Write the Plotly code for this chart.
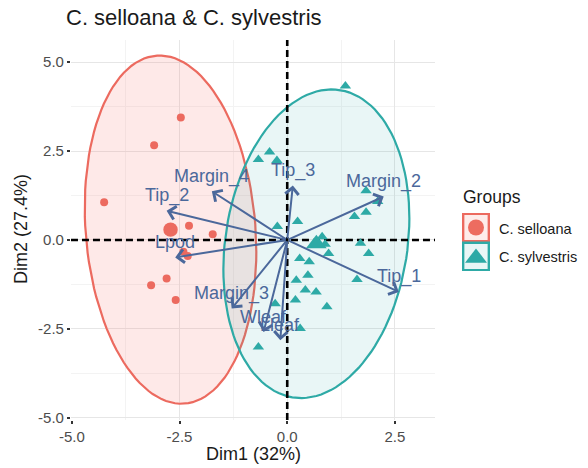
import numpy as np
import plotly.graph_objects as go

# ---------------- data ----------------
title_text = "C. selloana & C. sylvestris"
x_title = "Dim1 (32%)"
y_title = "Dim2 (27.4%)"
group_names = ["C. selloana", "C. sylvestris"]

sel_x = [-2.47, -3.09, -4.25, -2.28, -1.73, -2.41, -2.31, -2.80, -3.16, -2.59]
sel_y = [3.44, 2.66, 1.06, 0.40, 0.16, -0.33, -0.45, -1.08, -1.27, -1.69]

syl_x = [1.35, -0.67, -0.41, -0.24, 0.24, -0.23, 1.83, 2.10, 1.56, 1.83, 0.81, 0.88,
         0.96, 1.70, 1.89, 0.29, 0.51, 0.48, 0.21, 0.42, 0.67, 1.62, 0.19, 0.92,
         -0.28, 0.30, -0.67]
syl_y = [4.33, 2.26, 2.47, 2.23, 0.52, 0.38, 1.38, 1.08, 0.66, 0.78, 0.09, -0.12,
         -0.38, -0.09, -0.38, -0.52, -0.61, -0.99, -1.13, -1.41, -1.46, -1.11, -1.69,
         -1.88, -1.79, -2.49, -3.01]

var_names = ["Margin_2", "Tip_3", "Margin_4", "Tip_2", "Lpod", "Margin_3", "Wleaf", "Lleaf", "Tip_1"]
var_x = [2.24, 0.13, -1.75, -2.80, -2.60, -1.29, -0.55, -0.16, 2.59]
var_y = [1.22, 1.53, 1.37, 0.82, -0.49, -1.93, -2.59, -2.82, -1.46]

x_ticks = [-5.0, -2.5, 0.0, 2.5]
y_ticks = [-5.0, -2.5, 0.0, 2.5, 5.0]
x_lim = [-5.02, 3.43]
y_lim = [-5.06, 5.62]

# ---------------- styles ----------------
RED = "#EC6A5F"
TEAL = "#2EAAA6"
RED_FILL = "rgba(248,118,109,0.16)"
TEAL_FILL = "rgba(40,165,170,0.10)"
VAR_COL = "#4B689B"
FONT = "Liberation Sans, Arial, sans-serif"


def norm_ellipse(xs, ys, level=0.95, segments=121):
    pts = np.column_stack([xs, ys])
    n = len(xs)
    center = pts.mean(axis=0)
    cov = np.cov(pts.T)
    dfd = n - 1
    qf = (dfd / 2.0) * ((1 - level) ** (-2.0 / dfd) - 1)
    radius = np.sqrt(2 * qf)
    t = np.linspace(0, 2 * np.pi, segments)
    circ = np.column_stack([np.cos(t), np.sin(t)])
    chol = np.linalg.cholesky(cov).T
    e = center + radius * circ @ chol
    return e[:, 0], e[:, 1], center


fig = go.Figure()

groups = [
    (sel_x, sel_y, RED, RED_FILL, "circle"),
    (syl_x, syl_y, TEAL, TEAL_FILL, "triangle-up"),
]
centers = []
for gx, gy, col, fill, sym in groups:
    ex, ey, c = norm_ellipse(gx, gy)
    centers.append(c)
    fig.add_trace(go.Scatter(x=ex, y=ey, mode="lines", fill="toself", fillcolor=fill,
                             line=dict(color=col, width=2.2), hoverinfo="skip",
                             showlegend=False))

# zero reference lines (dashed)
fig.add_trace(go.Scatter(x=[0, 0], y=y_lim, mode="lines", hoverinfo="skip", showlegend=False,
                         line=dict(color="black", width=2.6, dash="7px,4px")))
fig.add_trace(go.Scatter(x=x_lim, y=[0, 0], mode="lines", hoverinfo="skip", showlegend=False,
                         line=dict(color="black", width=2.6, dash="7px,4px")))

for (gx, gy, col, fill, sym), c in zip(groups, centers):
    size = 8 if sym == "circle" else 10
    fig.add_trace(go.Scatter(x=gx, y=gy, mode="markers",
                             marker=dict(color=col, size=size, symbol=sym, line=dict(width=0)),
                             showlegend=False))
    fig.add_trace(go.Scatter(x=[c[0]], y=[c[1]], mode="markers",
                             marker=dict(color=col, size=size * 1.8, symbol=sym, line=dict(width=0)),
                             showlegend=False))

# variable arrows and labels
for name, vx, vy in zip(var_names, var_x, var_y):
    fig.add_annotation(x=vx, y=vy, ax=0, ay=0, xref="x", yref="y", axref="x", ayref="y",
                       text="", showarrow=True, arrowhead=4, arrowsize=1.3, arrowwidth=2,
                       arrowcolor=VAR_COL)
    fig.add_annotation(x=vx, y=vy, xref="x", yref="y", text=name, showarrow=False,
                       yshift=15, font=dict(family=FONT, size=18, color=VAR_COL))

# ---------------- legend (drawn manually) ----------------
fig.add_trace(go.Scatter(x=[0.5], y=[1.5], xaxis="x2", yaxis="y2", mode="markers",
                         marker=dict(color=RED, size=16, symbol="circle"), showlegend=False))
fig.add_trace(go.Scatter(x=[0.5], y=[0.45], xaxis="x2", yaxis="y2", mode="markers",
                         marker=dict(color=TEAL, size=19, symbol="triangle-up"), showlegend=False))
fig.add_shape(type="rect", xref="x2", yref="y2", x0=0.04, x1=0.96, y0=1.03, y1=1.97,
              line=dict(color=RED, width=2.5), fillcolor="rgba(248,118,109,0.14)")
fig.add_shape(type="rect", xref="x2", yref="y2", x0=0.04, x1=0.96, y0=0.03, y1=0.97,
              line=dict(color=TEAL, width=2.5), fillcolor="rgba(40,165,170,0.10)")
fig.add_annotation(x=461 / 588, y=1 - 197 / 468, xref="paper", yref="paper", text="Groups",
                   showarrow=False, xanchor="left", yanchor="middle",
                   font=dict(family=FONT, size=17.5, color="#1a1a1a"))
for i, gname in enumerate(group_names):
    fig.add_annotation(x=497 / 588, y=1 - (229 + 28 * i) / 468, xref="paper", yref="paper",
                       text=gname, showarrow=False, xanchor="left", yanchor="middle",
                       font=dict(family=FONT, size=14.5, color="#1a1a1a"))

# titles
fig.add_annotation(x=64 / 588, y=1 - 18 / 468, xref="paper", yref="paper", text=title_text,
                   showarrow=False, xanchor="left", yanchor="middle",
                   font=dict(family=FONT, size=22, color="#1a1a1a"))
fig.add_annotation(x=253 / 588, y=1 - 454 / 468, xref="paper", yref="paper", text=x_title,
                   showarrow=False, xanchor="center", yanchor="middle",
                   font=dict(family=FONT, size=18, color="#1a1a1a"))
fig.add_annotation(x=21 / 588, y=1 - 229 / 468, xref="paper", yref="paper", text=y_title,
                   showarrow=False, xanchor="center", yanchor="middle", textangle=-90,
                   font=dict(family=FONT, size=18, color="#1a1a1a"))

grid_major = "#E6E6E6"
grid_minor = "#F3F3F3"
fig.update_layout(
    template="none",
    width=588, height=468, margin=dict(l=0, r=0, t=0, b=0, autoexpand=False),
    paper_bgcolor="white", plot_bgcolor="white", showlegend=False,
    font=dict(family=FONT),
    xaxis=dict(domain=[0.1207, 0.7398], range=x_lim, tickvals=x_ticks, automargin=False,
               ticktext=[f"{v:.1f}" for v in x_ticks], showgrid=True, gridcolor=grid_major,
               gridwidth=1, zeroline=False, showline=False, ticks="outside", ticklen=3,
               tickwidth=2, tickcolor="#333333",
               tickfont=dict(family=FONT, size=15, color="#4D4D4D"),
               minor=dict(dtick=1.25, tick0=0, showgrid=True, gridcolor=grid_minor, gridwidth=1),
               anchor="y", fixedrange=True),
    yaxis=dict(domain=[0.1026, 0.9145], range=y_lim, tickvals=y_ticks, automargin=False,
               ticktext=[f"{v:.1f}" for v in y_ticks], showgrid=True, gridcolor=grid_major,
               gridwidth=1, zeroline=False, showline=False, ticks="outside", ticklen=3,
               tickwidth=2, tickcolor="#333333",
               tickfont=dict(family=FONT, size=15, color="#4D4D4D"),
               minor=dict(dtick=1.25, tick0=0, showgrid=True, gridcolor=grid_minor, gridwidth=1),
               anchor="x", fixedrange=True),
    xaxis2=dict(domain=[462 / 588, 490 / 588], range=[0, 1], visible=False, anchor="y2",
                fixedrange=True, automargin=False),
    yaxis2=dict(domain=[1 - 271 / 468, 1 - 213 / 468], range=[0, 2], visible=False,
                anchor="x2", fixedrange=True, automargin=False),
)

fig.write_html("out.html")
